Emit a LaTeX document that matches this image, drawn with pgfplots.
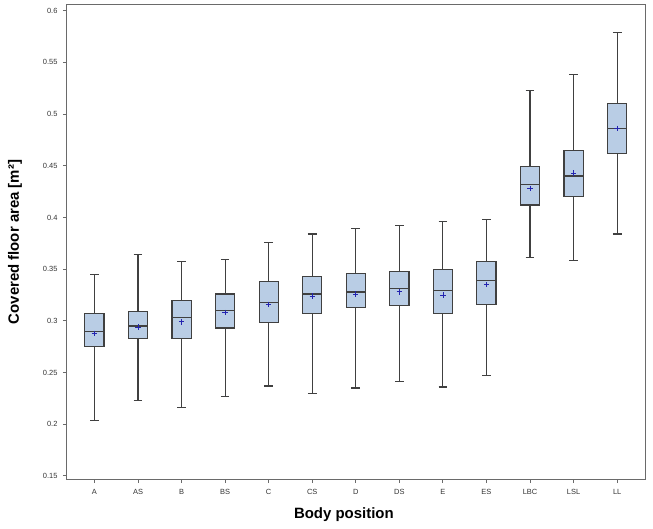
\documentclass[border=0pt]{standalone}
\usepackage{pgfplots}
\pgfplotsset{compat=1.18}
\usepgfplotslibrary{statistics}
\usepackage{fontspec}
\setmainfont{Liberation Sans}
\definecolor{boxblue}{HTML}{B9CDE5}
\definecolor{boxedge}{HTML}{404040}
\definecolor{axgray}{HTML}{6A6A6A}
\definecolor{meanblue}{HTML}{2424B0}
\pgfplotsset{
  bp/.style={boxplot prepared={#1}, draw=boxedge, fill=boxblue, line width=1.15pt, solid},
}
\begin{document}
\begin{tikzpicture}
\begin{axis}[
  scale only axis,
  width=578bp, height=474bp,
  xmin=-0.63, xmax=12.64,
  ymin=0.147, ymax=0.6055,
  clip=false,
  axis line style={axgray, line width=1pt},
  tick style={axgray, line width=0.9pt},
  tick align=outside,
  major tick length=4bp,
  xtick pos=bottom, ytick pos=left,
  xtick={0,...,12},
  xticklabels={A,AS,B,BS,C,CS,D,DS,E,ES,LBC,LSL,LL},
  ytick={0.15,0.2,...,0.61},
  yticklabel style={/pgf/number format/fixed, /pgf/number format/precision=2, /pgf/number format/assume math mode=true},
  ticklabel style={font=\fontsize{7.5}{9}\selectfont, text=black!80},
  xticklabel style={yshift=-3bp},
  yticklabel style={xshift=-2bp},
  every axis y label/.style={at={(axis description cs:-0.09,0.5)}, rotate=90, anchor=center,
    font=\fontsize{15}{18}\selectfont\bfseries},
  every axis x label/.style={at={(axis description cs:0.479,-0.076)}, anchor=center,
    font=\fontsize{15}{18}\selectfont\bfseries},
  ylabel={Covered floor area [m²]},
  xlabel={Body position},
  boxplot/draw direction=y,
  boxplot/box extend=0.44,
  boxplot/whisker extend=0.2,
  boxplot/every median/.style={line width=1.3pt},
]
% lower whisker, lower quartile, median, upper quartile, upper whisker
\addplot[bp={draw position=0,  lower whisker=0.204, lower quartile=0.275, median=0.290, upper quartile=0.307, upper whisker=0.345}] coordinates {};
\addplot[bp={draw position=1,  lower whisker=0.223, lower quartile=0.283, median=0.295, upper quartile=0.309, upper whisker=0.364}] coordinates {};
\addplot[bp={draw position=2,  lower whisker=0.216, lower quartile=0.283, median=0.303, upper quartile=0.320, upper whisker=0.357}] coordinates {};
\addplot[bp={draw position=3,  lower whisker=0.227, lower quartile=0.293, median=0.310, upper quartile=0.326, upper whisker=0.359}] coordinates {};
\addplot[bp={draw position=4,  lower whisker=0.237, lower quartile=0.298, median=0.318, upper quartile=0.338, upper whisker=0.376}] coordinates {};
\addplot[bp={draw position=5,  lower whisker=0.230, lower quartile=0.307, median=0.326, upper quartile=0.343, upper whisker=0.384}] coordinates {};
\addplot[bp={draw position=6,  lower whisker=0.235, lower quartile=0.313, median=0.328, upper quartile=0.346, upper whisker=0.389}] coordinates {};
\addplot[bp={draw position=7,  lower whisker=0.241, lower quartile=0.315, median=0.331, upper quartile=0.348, upper whisker=0.392}] coordinates {};
\addplot[bp={draw position=8,  lower whisker=0.236, lower quartile=0.307, median=0.329, upper quartile=0.350, upper whisker=0.396}] coordinates {};
\addplot[bp={draw position=9,  lower whisker=0.247, lower quartile=0.316, median=0.339, upper quartile=0.357, upper whisker=0.398}] coordinates {};
\addplot[bp={draw position=10, lower whisker=0.361, lower quartile=0.412, median=0.432, upper quartile=0.449, upper whisker=0.523}] coordinates {};
\addplot[bp={draw position=11, lower whisker=0.358, lower quartile=0.420, median=0.440, upper quartile=0.465, upper whisker=0.538}] coordinates {};
\addplot[bp={draw position=12, lower whisker=0.384, lower quartile=0.462, median=0.486, upper quartile=0.510, upper whisker=0.579}] coordinates {};
% means
\addplot[only marks, mark=+, mark size=2.7bp, meanblue, line width=0.8pt] coordinates {
(0,0.288) (1,0.294) (2,0.299) (3,0.308) (4,0.316) (5,0.324) (6,0.326)
(7,0.328) (8,0.325) (9,0.335) (10,0.428) (11,0.443) (12,0.486)
};
\path (axis description cs:-0.1159,-0.1034) rectangle (axis description cs:1.0138,1.0105);
\end{axis}
\end{tikzpicture}
\end{document}
